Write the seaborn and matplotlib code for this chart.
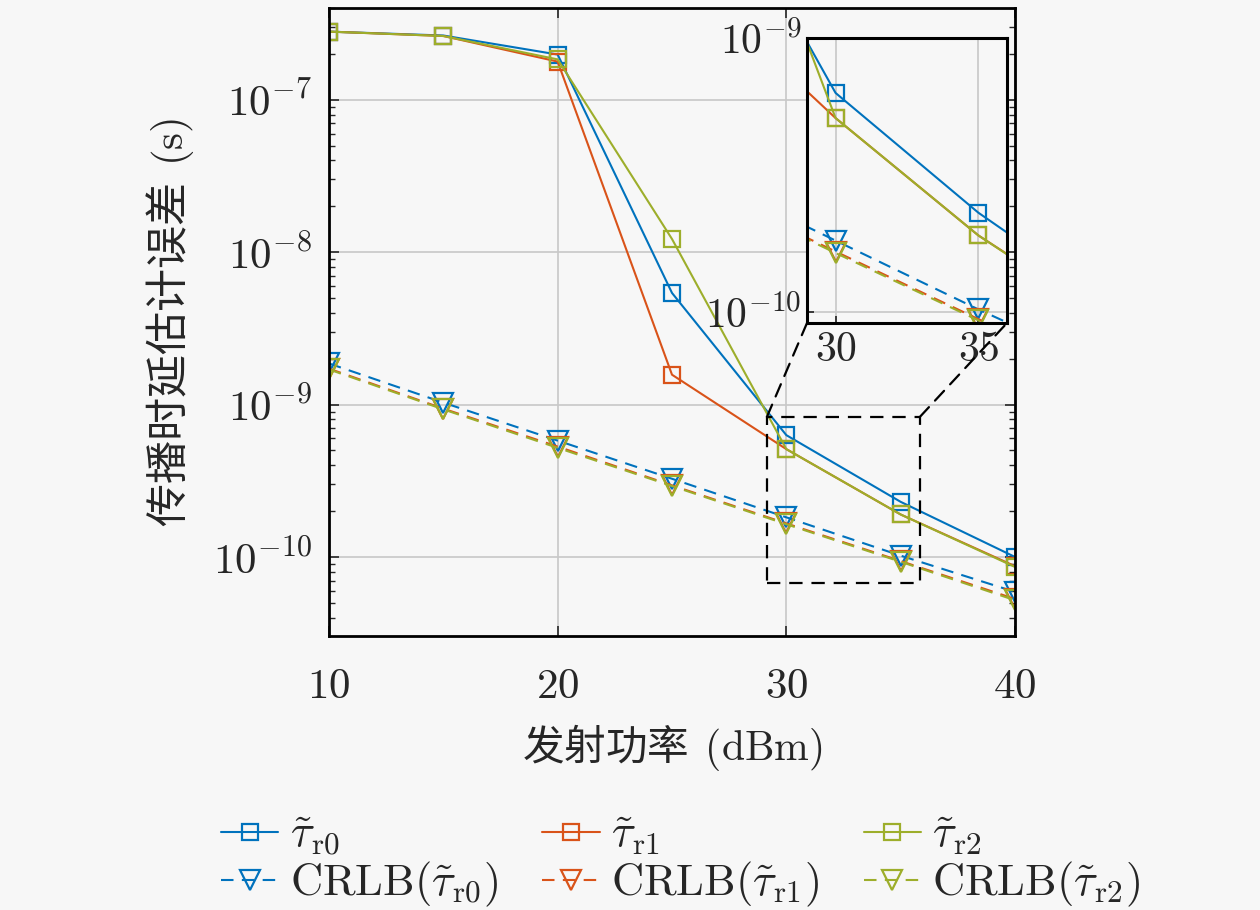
import numpy as np
import matplotlib
matplotlib.use("Agg")
import matplotlib.pyplot as plt
import seaborn as sns
from matplotlib.patches import Rectangle, ConnectionPatch

# --- data ---
power_dbm = [10, 15, 20, 25, 30, 35, 40]

tau_r0 = [2.8e-7, 2.64e-7, 1.98e-7, 5.4e-9, 6.3e-10, 2.3e-10, 1.0e-10]
tau_r1 = [2.8e-7, 2.62e-7, 1.78e-7, 1.57e-9, 5.1e-10, 1.9e-10, 8.7e-11]
tau_r2 = [2.8e-7, 2.62e-7, 1.84e-7, 1.22e-8, 5.1e-10, 1.9e-10, 8.6e-11]

crlb_r0 = [1.86e-9, 1.03e-9, 5.8e-10, 3.26e-10, 1.82e-10, 1.02e-10, 5.9e-11]
crlb_r1 = [1.72e-9, 0.94e-9, 5.3e-10, 2.95e-10, 1.66e-10, 0.94e-10, 5.3e-11]
crlb_r2 = [1.70e-9, 0.93e-9, 5.2e-10, 2.92e-10, 1.64e-10, 0.93e-10, 5.2e-11]

colors = ['#0072BD', '#D95319', '#9DAE2B']
est_labels = [r'$\tilde{\tau}_{\mathrm{r0}}$', r'$\tilde{\tau}_{\mathrm{r1}}$',
              r'$\tilde{\tau}_{\mathrm{r2}}$']
crlb_labels = [r'$\mathrm{CRLB}(\tilde{\tau}_{\mathrm{r0}})$',
               r'$\mathrm{CRLB}(\tilde{\tau}_{\mathrm{r1}})$',
               r'$\mathrm{CRLB}(\tilde{\tau}_{\mathrm{r2}})$']
est_series = [tau_r0, tau_r1, tau_r2]
crlb_series = [crlb_r0, crlb_r1, crlb_r2]

sns.set_theme(style='ticks')
bg = '#f7f7f7'
plt.rcParams.update({
    'mathtext.fontset': 'cm',
    'font.family': ['Noto Sans CJK SC', 'DejaVu Sans'],
    'figure.facecolor': bg,
    'axes.facecolor': bg,
    'savefig.facecolor': bg,
})
dash = (0, (6, 4))


def draw_series(ax, with_label=True):
    for vals, crlb, c, l1, l2 in zip(est_series, crlb_series, colors, est_labels, crlb_labels):
        sns.lineplot(x=power_dbm, y=vals, ax=ax, color=c, lw=1.5, marker='s',
                     markersize=11, markerfacecolor='none', markeredgecolor=c,
                     markeredgewidth=1.6, label=l1 if with_label else None)
        sns.lineplot(x=power_dbm, y=crlb, ax=ax, color=c, lw=1.5, linestyle=dash,
                     marker='v', markersize=14, markerfacecolor='none',
                     markeredgecolor=c, markeredgewidth=1.6,
                     label=l2 if with_label else None)


fig = plt.figure(figsize=(12.6, 9.1), dpi=100)
ax = fig.add_axes([329 / 1260, 1 - 636 / 910, 686 / 1260, 628 / 910])
draw_series(ax)
ax.set_yscale('log')
ax.set_xlim(10, 40)
ax.set_ylim(3.03e-11, 4.0e-7)
ax.set_xticks([10, 20, 30, 40], labels=[f'${v}$' for v in [10, 20, 30, 40]])
ax.set_yticks([1e-10, 1e-9, 1e-8, 1e-7],
              labels=[r'$10^{-10}$', r'$10^{-9}$', r'$10^{-8}$', r'$10^{-7}$'])
ax.grid(True, which='major', color='#c8c8c8', lw=1.2)
ax.tick_params(which='both', direction='in', top=True, right=True, labelsize=31)
ax.tick_params(axis='x', pad=20)
ax.tick_params(axis='y', pad=12)
ax.tick_params(which='major', length=7, width=1.2)
ax.tick_params(which='minor', length=4, width=1.0)
for s in ax.spines.values():
    s.set_linewidth(2.0)
    s.set_color('black')
ax.set_xlabel('发射功率$\\;\\,(\\mathrm{dBm})$', fontsize=30, labelpad=10)
ax.set_ylabel('传播时延估计误差$\\;\\,(\\mathrm{s})$', fontsize=31, labelpad=12)

handles, labels = ax.get_legend_handles_labels()
ax.get_legend().remove()
fig.legend(handles, labels, loc='upper left', bbox_to_anchor=(0.161, 0.128), ncol=3,
           frameon=False, fontsize=32, handlelength=1.3, handletextpad=0.25,
           columnspacing=1.0, labelspacing=0.05, borderaxespad=0)

# zoom rectangle
rx0, rx1 = 29.15, 35.84
ry0, ry1 = 6.7e-11, 8.3e-10
ax.add_patch(Rectangle((rx0, ry0), rx1 - rx0, ry1 - ry0, fill=False, ec='black',
                       ls=dash, lw=1.6, zorder=5))

# inset
axin = fig.add_axes([807 / 1260, 1 - 323 / 910, 200 / 1260, 285 / 910])
draw_series(axin, with_label=False)
axin.set_yscale('log')
axin.set_xlim(29.0, 36.0)
axin.set_ylim(9.1e-11, 1.0e-9)
axin.set_xticks([30, 35], labels=['$30$', '$35$'])
axin.set_yticks([1e-10, 1e-9], labels=[r'$10^{-10}$', r'$10^{-9}$'])
axin.minorticks_off()
axin.grid(True, which='major', color='#c8c8c8', lw=1.2)
axin.tick_params(direction='in', labelsize=30, length=5, pad=4)
for s in axin.spines.values():
    s.set_linewidth(2.2)
    s.set_color('black')

for xa, xb in [(rx0, 0), (rx1, 1)]:
    con = ConnectionPatch(xyA=(xa, ry1), coordsA=ax.transData, xyB=(xb, 0),
                          coordsB=axin.transAxes, color='black', ls=dash, lw=1.6)
    fig.add_artist(con)

fig.savefig('out.png', dpi=100)
